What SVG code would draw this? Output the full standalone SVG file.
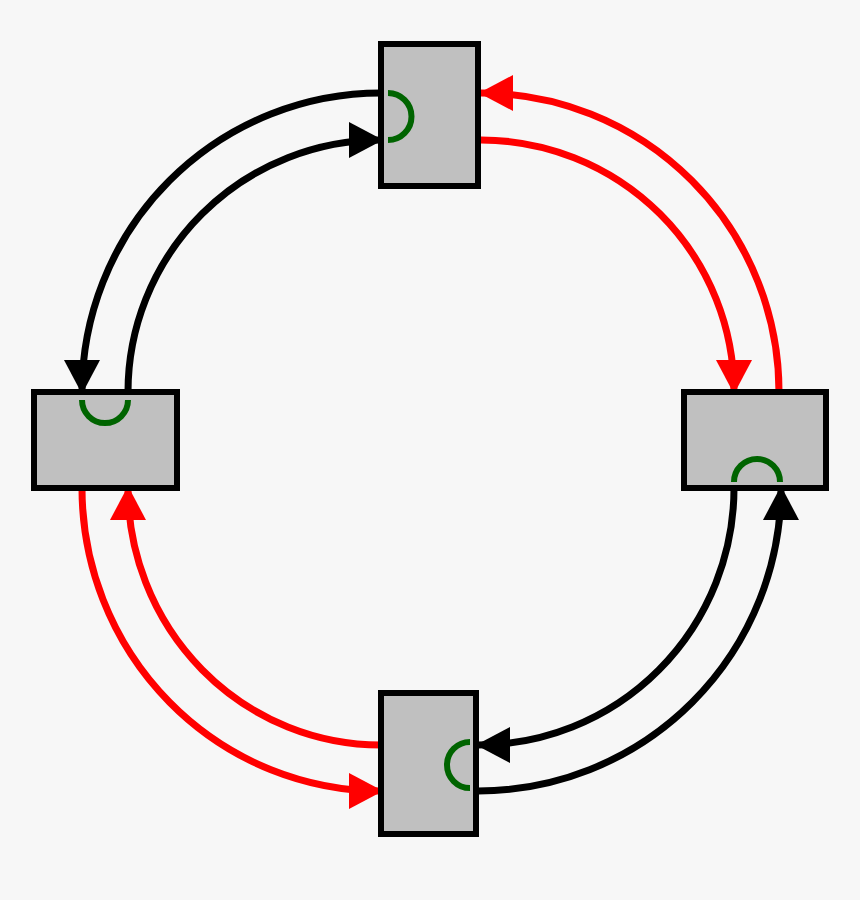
<svg xmlns="http://www.w3.org/2000/svg" width="860" height="900" viewBox="0 0 860 900">
<style>
.box{fill:#c0c0c0;stroke:#000;stroke-width:6}
.g{fill:none;stroke:#006400;stroke-width:6}
.k{fill:none;stroke:#000;stroke-width:7}
.r{fill:none;stroke:#f00;stroke-width:7}
</style>
<defs>
<marker id="ak" markerUnits="userSpaceOnUse" markerWidth="34" markerHeight="36" refX="32" refY="18" orient="auto"><path d="M0,0 L34,18 L0,36 z" fill="#000"/></marker>
<marker id="ar" markerUnits="userSpaceOnUse" markerWidth="34" markerHeight="36" refX="32" refY="18" orient="auto"><path d="M0,0 L34,18 L0,36 z" fill="#f00"/></marker>
</defs>
<rect width="860" height="900" fill="#f7f7f7"/>
<g id="connectors">
<path class="k" d="M381,93 A299,299 0 0 0 82,392" marker-end="url(#ak)"/>
<path class="k" d="M128,392 A253,252 0 0 1 381,140" marker-end="url(#ak)"/>
<path class="r" d="M779,392 A298,299 0 0 0 481,93" marker-end="url(#ar)"/>
<path class="r" d="M481,140 A253,252 0 0 1 734,392" marker-end="url(#ar)"/>
<path class="k" d="M478,791 A303,303 0 0 0 781,488" marker-end="url(#ak)"/>
<path class="k" d="M734,488 A256,257 0 0 1 478,745" marker-end="url(#ak)"/>
<path class="r" d="M82,488 A299,303 0 0 0 381,791" marker-end="url(#ar)"/>
<path class="r" d="M381,745 A253,257 0 0 1 128,488" marker-end="url(#ar)"/>
</g>
<g id="top"><rect class="box" x="381" y="44" width="97" height="142"/><path class="g" d="M388,93 A23.5,23.5 0 0 1 388,140"/></g>
<g id="left"><rect class="box" x="34" y="392" width="143" height="96"/><path class="g" d="M82,400 A23,23 0 0 0 128,400"/></g>
<g id="right"><rect class="box" x="684" y="392" width="142" height="96"/><path class="g" d="M734,482 A23,23 0 0 1 780,482"/></g>
<g id="bottom"><rect class="box" x="381" y="693" width="95" height="141"/><path class="g" d="M470,742 A23,23 0 0 0 470,788"/></g>
</svg>
